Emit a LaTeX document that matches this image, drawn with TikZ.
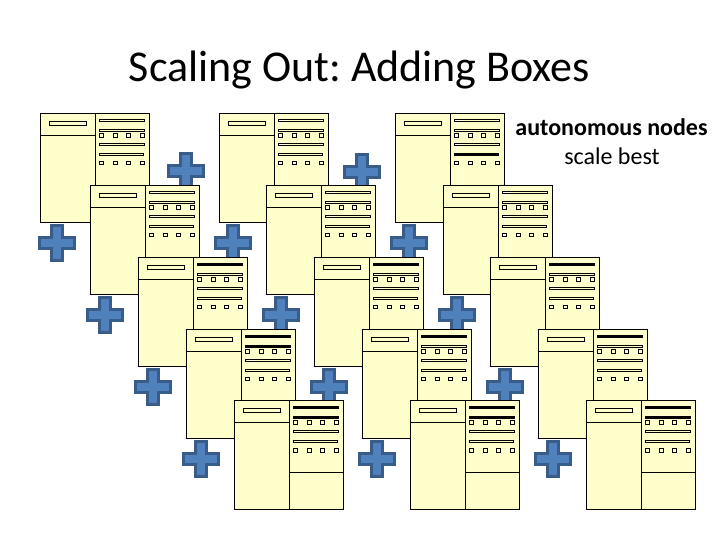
\documentclass[tikz,border=0pt]{standalone}
\usepackage{fontspec}
\setmainfont{Carlito}
\frenchspacing
\definecolor{srvfill}{HTML}{FFFFCC}
\definecolor{plusfill}{HTML}{4F81BD}
\definecolor{plusline}{HTML}{385D8A}
\tikzset{
  srvbox/.style={draw=black,fill=srvfill,line width=1.4pt,line join=miter},
  slotbar/.style={draw=black,fill=srvfill,line width=1.1pt},
  hl/.style={draw=black,fill=srvfill,line width=1.1pt},
  sl/.style={draw=black,fill=black,line width=1.1pt},
  plusshape/.style={draw=plusline,fill=plusfill,line width=3pt,line join=miter},
  titletext/.style={anchor=base,inner sep=0pt,font=\fontsize{44}{48}\selectfont},
  sidetext/.style={anchor=base,inner sep=0pt,font=\fontsize{24}{26}\selectfont}
}
\newcommand{\plusat}[2]{%
  \begin{scope}[shift={(#1,#2)}]
    \path[plusshape] (-5.5,-17.5) -- (5.5,-17.5) -- (5.5,-5.5) -- (17.5,-5.5) -- (17.5,5.5) -- (5.5,5.5)
      -- (5.5,17.5) -- (-5.5,17.5) -- (-5.5,5.5) -- (-17.5,5.5) -- (-17.5,-5.5) -- (-5.5,-5.5) -- cycle;
  \end{scope}}
\newcommand{\srvat}[5]{%
  \begin{scope}[shift={(#1,#2)}]
    \path[srvbox] (0,0) rectangle (55.3,109);
    \path[srvbox] (55.3,0) rectangle (109,109);
    \path[srvbox] (0,22) -- (55.3,22);
    \path[srvbox] (55.3,72) -- (109,72);
    \path[slotbar] (9,8) rectangle (46.3,12);
    \path[#3] (59,5.9) rectangle (104.3,8.1);
    \path[#4] (59,15.9) rectangle (104.3,18.1);
    \path[hl] (59,29.9) rectangle (104.3,32.1);
    \path[#5] (59,39.9) rectangle (103.3,42.1);
    \foreach \px in {61.1,75.1,88.1,102.1}{
      \path[slotbar] (\px-1.9,20.4) rectangle (\px+1.9,24.2);
      \path[slotbar] (\px-1.9,47.8) rectangle (\px+1.9,51.6);
    }
  \end{scope}}
\begin{document}
\begin{tikzpicture}[x=1pt,y=-1pt]
  \useasboundingbox[fill=white] (0,0) rectangle (720,540);
  \node[titletext] (title) at (359.5,82) {Scaling Out: Adding Boxes};
  \node[sidetext] (auto) at (611.5,136) {\textbf{autonomous nodes}};
  \node[sidetext] (best) at (612,165) {scale best};
  \foreach \cx/\cy in {186/171,57/243,105/315,153/387,201/459,
                       362/172,233/243,281/315,329/387,377/459,
                       409/243,457/315,505/387,553/459}{
    \plusat{\cx}{\cy}
  }
  \srvat{40.3}{113.3}{hl}{hl}{hl}
  \srvat{90.3}{185.3}{hl}{hl}{hl}
  \srvat{138.3}{257.3}{sl}{hl}{hl}
  \srvat{186.3}{329.3}{sl}{sl}{hl}
  \srvat{234.3}{400.5}{sl}{sl}{hl}
  \srvat{219.3}{113.3}{hl}{hl}{hl}
  \srvat{266.3}{185.3}{hl}{hl}{hl}
  \srvat{314.3}{257.3}{sl}{hl}{hl}
  \srvat{362.3}{329.3}{sl}{hl}{hl}
  \srvat{410.3}{400.5}{sl}{sl}{hl}
  \srvat{395.3}{113.3}{hl}{hl}{sl}
  \srvat{443.3}{185.3}{hl}{hl}{hl}
  \srvat{490.3}{257.3}{sl}{hl}{hl}
  \srvat{538.3}{329.3}{sl}{hl}{hl}
  \srvat{586.3}{400.5}{sl}{sl}{hl}
\end{tikzpicture}
\end{document}
